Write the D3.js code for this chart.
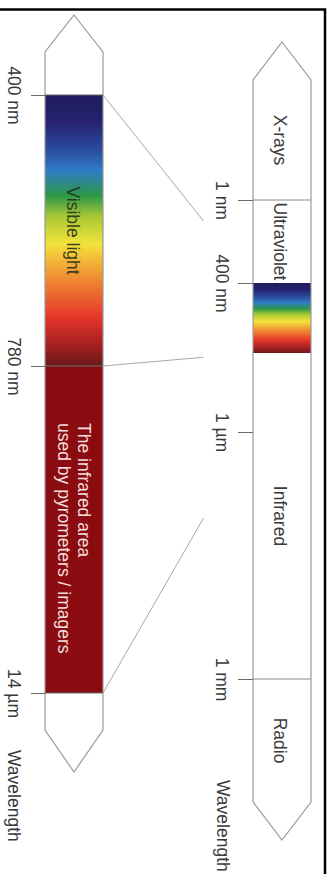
<!DOCTYPE html>
<html>
<head>
<meta charset="utf-8">
<script src="https://cdn.jsdelivr.net/npm/d3@7"></script>
<style>
  body { margin: 0; background: #fff; }
  svg text { font-family: "Liberation Sans", Arial, sans-serif; font-size: 17.5px; fill: #3a3a3a; }
</style>
</head>
<body>
<svg id="chart" width="332" height="874"></svg>
<script>
// wavelengths in metres
var detailTickValues = [400e-9, 780e-9, 14e-6];
var detailTickLabels = ["400 nm", "780 nm", "14 µm"];

var spectrumTickValues = [1e-9, 400e-9, 1e-6, 1e-3];
var spectrumTickLabels = ["1 nm", "400 nm", "1 µm", "1 mm"];

var bandNames = ["X-rays", "Ultraviolet", "", "Infrared", "Radio"];
var bandEdges = [1e-9, 400e-9, 780e-9, 1e-3];

// zoom lines: detail bar value -> spectrum bar value
var zoomFrom = [400e-9, 780e-9, 14e-6];
var zoomTo = [400e-9, 780e-9, 1e-6];

var irText = ["The infrared area", "used by pyrometers / imagers"];

var spectrumColors = [
    [0.00, "#1f1b5c"], [0.10, "#262270"], [0.20, "#2b4c9e"], [0.28, "#2f7cc6"],
    [0.37, "#2c9848"], [0.45, "#a9c935"], [0.55, "#f3e23c"], [0.68, "#f08a32"],
    [0.82, "#e4352a"], [0.93, "#a01f1f"], [1.00, "#6a1a1a"]
];

var svg = d3.select("#chart");

// frame
svg.append("path")
    .attr("d", "M0,9.5H325V874")
    .attr("fill", "none")
    .attr("stroke", "#000")
    .attr("stroke-width", 2.5);

var defs = svg.append("defs");
var grad = defs.append("linearGradient")
    .attr("id", "spectrum")
    .attr("x1", 0).attr("y1", 0).attr("x2", 0).attr("y2", 1);
grad.selectAll("stop")
    .data(spectrumColors)
    .enter().append("stop")
    .attr("offset", function(d) { return d[0]; })
    .attr("stop-color", function(d) { return d[1]; });

// scales (schematic, piecewise log)
var yDetail = d3.scaleLog()
    .domain(detailTickValues)
    .range([95, 366, 693]);

var ySpec = d3.scaleLog()
    .domain([1e-9, 400e-9, 780e-9, 1e-6, 1e-3])
    .range([200, 283, 353, 432, 679]);

var left = { x0: 45, x1: 103, top: 52, tipTop: 15, bottom: 730, tipBottom: 772 };
var right = { x0: 253, x1: 311, top: 80, tipTop: 42, bottom: 802, tipBottom: 840 };

function arrowPath(b) {
    var cx = (b.x0 + b.x1) / 2;
    return "M" + cx + "," + b.tipTop + "L" + b.x1 + "," + b.top + "V" + b.bottom +
        "L" + cx + "," + b.tipBottom + "L" + b.x0 + "," + b.bottom + "V" + b.top + "Z";
}

function vtext(g, x, y, str, anchor) {
    return g.append("text")
        .attr("transform", "translate(" + x + "," + y + ") rotate(90)")
        .attr("text-anchor", anchor || "middle")
        .text(str);
}

// zoom lines
svg.append("g").selectAll("line")
    .data(d3.range(zoomFrom.length))
    .enter().append("line")
    .attr("x1", left.x1)
    .attr("y1", function(i) { return yDetail(zoomFrom[i]); })
    .attr("x2", function(i) { return left.x1 + (right.x0 - left.x1) * 0.67; })
    .attr("y2", function(i) {
        var a = yDetail(zoomFrom[i]), b = ySpec(zoomTo[i]);
        return a + (b - a) * 0.67;
    })
    .attr("stroke", "#a8a8a8")
    .attr("stroke-width", 1);

// ----- detail bar (left)
var gl = svg.append("g");
gl.append("rect")
    .attr("x", left.x0).attr("width", left.x1 - left.x0)
    .attr("y", yDetail(400e-9))
    .attr("height", yDetail(780e-9) - yDetail(400e-9))
    .attr("fill", "url(#spectrum)");
gl.append("rect")
    .attr("x", left.x0).attr("width", left.x1 - left.x0)
    .attr("y", yDetail(780e-9))
    .attr("height", yDetail(14e-6) - yDetail(780e-9))
    .attr("fill", "#8a0c10");
gl.append("path")
    .attr("d", arrowPath(left))
    .attr("fill", "none")
    .attr("stroke", "#9a9a9a")
    .attr("stroke-width", 1.2);
gl.selectAll("line.edge")
    .data(detailTickValues)
    .enter().append("line")
    .attr("class", "edge")
    .attr("x1", left.x0).attr("x2", left.x1)
    .attr("y1", yDetail).attr("y2", yDetail)
    .attr("stroke", "#6a6a6a").attr("stroke-width", 1);

vtext(gl, 67, (yDetail(400e-9) + yDetail(780e-9)) / 2, "Visible light")
    .style("fill", "#1e2a1a").style("opacity", 0.85);

var irLabel = gl.append("text")
    .attr("transform", "translate(78," + (yDetail(780e-9) + 57) + ") rotate(90)")
    .style("fill", "#f4dede");
irLabel.selectAll("tspan")
    .data(irText)
    .enter().append("tspan")
    .attr("x", 0)
    .attr("dy", function(d, i) { return i ? "1.15em" : 0; })
    .text(function(d) { return d; });

// detail axis
var axL = svg.append("g")
    .attr("transform", "translate(" + left.x0 + ",0)")
    .call(d3.axisLeft(yDetail)
        .tickValues(detailTickValues)
        .tickFormat(function(d, i) { return detailTickLabels[i]; })
        .tickSizeInner(14).tickSizeOuter(0));

// ----- spectrum bar (right)
var gr = svg.append("g");
var edgesAll = [right.top].concat(bandEdges.map(ySpec)).concat([right.bottom]);
bandNames.forEach(function(name, i) {
    if (!name) return;
    vtext(gr, 274, (edgesAll[i] + edgesAll[i + 1]) / 2, name);
});
gr.append("rect")
    .attr("x", right.x0).attr("width", right.x1 - right.x0)
    .attr("y", ySpec(400e-9))
    .attr("height", ySpec(780e-9) - ySpec(400e-9))
    .attr("fill", "url(#spectrum)");
gr.append("path")
    .attr("d", arrowPath(right))
    .attr("fill", "none")
    .attr("stroke", "#9a9a9a")
    .attr("stroke-width", 1.2);
gr.selectAll("line.edge")
    .data([1e-9, 1e-3])
    .enter().append("line")
    .attr("class", "edge")
    .attr("x1", right.x0).attr("x2", right.x1)
    .attr("y1", ySpec).attr("y2", ySpec)
    .attr("stroke", "#8a8a8a").attr("stroke-width", 1);

var axR = svg.append("g")
    .attr("transform", "translate(" + right.x0 + ",0)")
    .call(d3.axisLeft(ySpec)
        .tickValues(spectrumTickValues)
        .tickFormat(function(d, i) { return spectrumTickLabels[i]; })
        .tickSizeInner(15).tickSizeOuter(0));

[axL, axR].forEach(function(ax) {
    ax.attr("font-family", null).attr("font-size", null);
    ax.select(".domain").remove();
    ax.selectAll(".tick line").attr("stroke", "#6a6a6a");
    ax.selectAll(".tick text")
        .attr("x", null).attr("dy", null)
        .attr("fill", null)
        .attr("text-anchor", "middle")
        .attr("transform", "translate(-37,0) rotate(90)");
});

// axis titles
vtext(svg, 8, 750, "Wavelength", "start");
vtext(svg, 217, 780, "Wavelength", "start");
</script>
</body>
</html>
